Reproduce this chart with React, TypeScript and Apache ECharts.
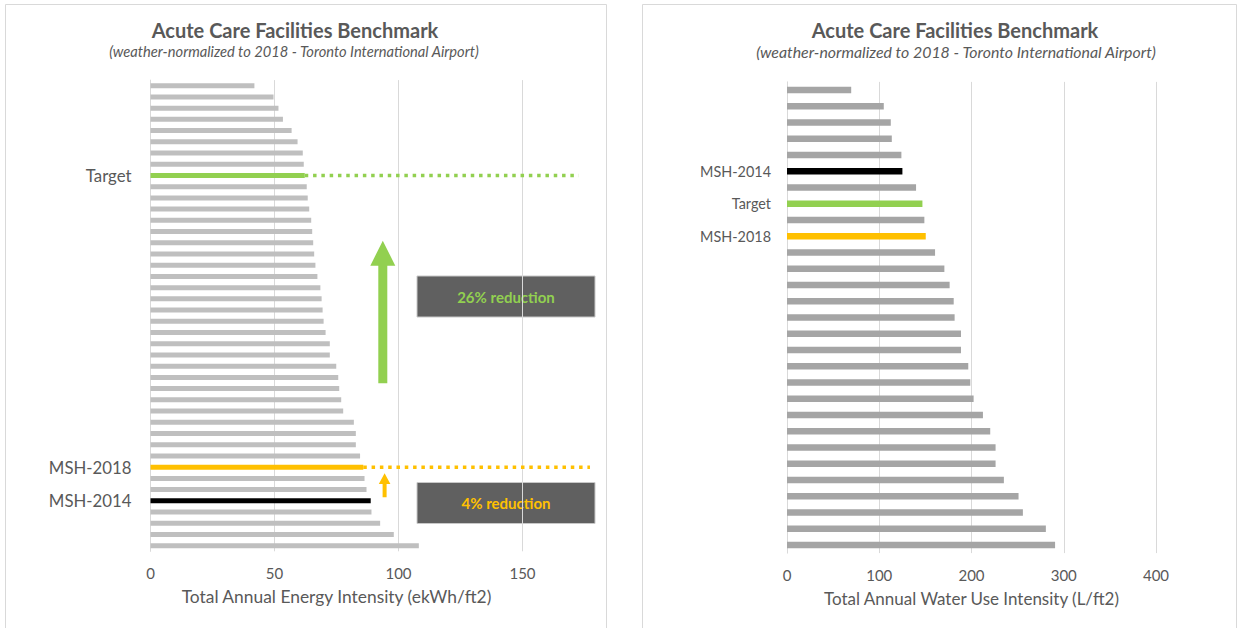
import React, { useEffect, useRef } from "react";
import * as echarts from "echarts";

// ---------- data ----------
const energyLabels = [
  "", "", "", "", "", "", "", "", "Target", "", "",
  "", "", "", "", "", "", "", "", "", "",
  "", "", "", "", "", "", "", "", "", "",
  "", "", "", "MSH-2018", "", "", "MSH-2014", "", "", "", "",
];
const energyValues = [
  41.9, 49.6, 51.6, 53.4, 56.9, 59.3, 61.4, 61.8, 62.2, 63.0, 63.4,
  64.0, 64.8, 65.2, 65.6, 66.0, 66.5, 67.3, 68.5, 69.0, 69.4,
  69.8, 70.6, 72.3, 72.3, 74.9, 75.7, 76.1, 76.9, 77.7, 82.0,
  82.8, 82.8, 84.5, 85.8, 86.3, 87.1, 88.8, 89.1, 92.6, 98.1, 108.2,
];
const energyTicks = [0, 50, 100, 150];

const waterLabels = [
  "", "", "", "", "", "MSH-2014", "", "Target", "", "MSH-2018",
  "", "", "", "", "", "", "", "", "", "",
  "", "", "", "", "", "", "", "", "",
];
const waterValues = [
  69.6, 104.9, 112.5, 113.6, 124.0, 125.1, 139.9, 146.8, 148.9, 150.4,
  160.5, 170.6, 176.3, 180.7, 181.7, 188.6, 188.6, 196.5, 198.7, 202.3,
  212.4, 220.3, 226.1, 226.1, 235.1, 251.0, 255.7, 280.6, 290.6,
];
const waterTicks = [0, 100, 200, 300, 400];

// dotted guide lines on the energy chart: [start, end] in ekWh/ft2
const targetGuide = [62.2, 172.7];
const msh2018Guide = [85.8, 177.2];

const reductionTexts = ["26% reduction", "4% reduction"];

const highlightColors: Record<string, string> = {
  Target: "#92d050",
  "MSH-2018": "#ffc000",
  "MSH-2014": "#000000",
};

const FONT = 'Lato, "Open Sans", sans-serif';
const TXT = "#595959";

function catNames(labels: string[]) {
  return labels.map((l, i) => (l ? l : `__${i}`));
}

function barData(labels: string[], values: number[], gray: string) {
  return values.map((v, i) => ({
    value: v,
    itemStyle: { color: highlightColors[labels[i]] || gray },
  }));
}

export default function App() {
  const ref = useRef<HTMLDivElement>(null);

  useEffect(() => {
    if (!ref.current) return;
    const chart = echarts.init(ref.current, undefined, { renderer: "svg" });

    const eNames = catNames(energyLabels);
    const wNames = catNames(waterLabels);
    const tIdx = energyLabels.indexOf("Target");
    const mIdx = energyLabels.indexOf("MSH-2018");

    const yAxisBase = (names: string[], margin: number, gridIndex: number, fontSize: number) => ({
      type: "category" as const,
      gridIndex,
      inverse: true,
      data: names,
      axisTick: { show: false },
      axisLine: { show: true, lineStyle: { color: "#d9d9d9", width: 1 } },
      axisLabel: {
        interval: 0,
        margin,
        color: TXT,
        fontFamily: FONT,
        fontSize,
        formatter: (v: string) => (v.startsWith("__") ? "" : v),
      },
    });

    const xAxisBase = (
      max: number,
      interval: number,
      name: string,
      gridIndex: number,
      ticks: number[],
      nameSize: number
    ) => ({
      type: "value" as const,
      gridIndex,
      min: ticks[0],
      max,
      interval,
      name,
      nameLocation: "middle" as const,
      nameGap: 37,
      nameTextStyle: { color: TXT, fontFamily: FONT, fontSize: nameSize },
      axisLine: { show: false },
      axisTick: { show: false },
      axisLabel: { color: TXT, fontFamily: FONT, fontSize: 15, margin: 14 },
      splitLine: { show: true, lineStyle: { color: "#d9d9d9", width: 1 } },
    });

    const titleText = (cx: number, title: string, sub: string, subCx: number, subSize: number) => [
      {
        type: "text",
        x: cx,
        y: 30,
        style: {
          text: title,
          fill: TXT,
          font: `bold 20px ${FONT}`,
          textAlign: "center",
          textVerticalAlign: "middle",
        },
      },
      {
        type: "text",
        x: subCx,
        y: 51,
        style: {
          text: sub,
          fill: TXT,
          font: `italic ${subSize}px ${FONT}`,
          textAlign: "center",
          textVerticalAlign: "middle",
        },
      },
    ];

    const arrow = (
      cx: number,
      tipY: number,
      baseY: number,
      bottomY: number,
      headHalf: number,
      shaftHalf: number,
      color: string
    ) => ({
      type: "polygon",
      z: 10,
      shape: {
        points: [
          [cx, tipY],
          [cx + headHalf, baseY],
          [cx + shaftHalf, baseY],
          [cx + shaftHalf, bottomY],
          [cx - shaftHalf, bottomY],
          [cx - shaftHalf, baseY],
          [cx - headHalf, baseY],
        ],
      },
      style: { fill: color },
    });

    const box = (y: number, text: string, color: string) => ({
      type: "group",
      z: 10,
      children: [
        {
          type: "rect",
          shape: { x: 417, y, width: 178, height: 41 },
          style: { fill: "#606060", stroke: "#c8c8c8", lineWidth: 1 },
        },
        {
          type: "text",
          x: 506,
          y: y + 20.5,
          style: {
            text,
            fill: color,
            font: `bold 15px ${FONT}`,
            textAlign: "center",
            textVerticalAlign: "middle",
          },
        },
      ],
    });

    chart.setOption({
      animation: false,
      backgroundColor: "#ffffff",
      grid: [
        { left: 150.5, top: 80.1, width: 372, height: 471.2, containLabel: false },
        { left: 787, top: 81.9, width: 369, height: 471.2, containLabel: false },
      ],
      xAxis: [
        xAxisBase(150, 50, "Total Annual Energy Intensity (ekWh/ft2)", 0, energyTicks, 17.4),
        xAxisBase(400, 100, "Total Annual Water Use Intensity (L/ft2)", 1, waterTicks, 17),
      ],
      yAxis: [yAxisBase(eNames, 19, 0, 16.8), yAxisBase(wNames, 16, 1, 14.4)],
      series: [
        {
          type: "bar",
          xAxisIndex: 0,
          yAxisIndex: 0,
          barWidth: 5,
          data: barData(energyLabels, energyValues, "#bfbfbf"),
          z: 3,
        },
        {
          type: "bar",
          xAxisIndex: 1,
          yAxisIndex: 1,
          barWidth: 6.5,
          data: barData(waterLabels, waterValues, "#a5a5a5"),
          z: 3,
        },
        {
          type: "line",
          xAxisIndex: 0,
          yAxisIndex: 0,
          clip: false,
          symbol: "none",
          silent: true,
          z: 4,
          lineStyle: { color: "#92d050", width: 3.5, type: [3.5, 4.8] },
          data: [
            [targetGuide[0], tIdx],
            [targetGuide[1], tIdx],
          ],
        },
        {
          type: "line",
          xAxisIndex: 0,
          yAxisIndex: 0,
          clip: false,
          symbol: "none",
          silent: true,
          z: 4,
          lineStyle: { color: "#ffc000", width: 3.5, type: [3.5, 4.8] },
          data: [
            [msh2018Guide[0], mIdx],
            [msh2018Guide[1], mIdx],
          ],
        },
      ],
      graphic: [
        {
          type: "rect",
          silent: true,
          shape: { x: 5.5, y: 4.5, width: 601, height: 630 },
          style: { fill: "rgba(0,0,0,0)", stroke: "#d9d9d9", lineWidth: 1 },
        },
        {
          type: "rect",
          silent: true,
          shape: { x: 642.5, y: 4.5, width: 594, height: 630 },
          style: { fill: "rgba(0,0,0,0)", stroke: "#d9d9d9", lineWidth: 1 },
        },
        ...titleText(295, "Acute Care Facilities Benchmark", "(weather-normalized to 2018 - Toronto International Airport)", 294, 14.7),
        ...titleText(955, "Acute Care Facilities Benchmark", "(weather-normalized to 2018 - Toronto International Airport)", 956, 15.9),
        arrow(382.8, 240.7, 265.7, 383.3, 12.5, 4.5, "#92d050"),
        arrow(384.6, 473.3, 484, 497.3, 5.8, 2, "#ffc000"),
        box(276, reductionTexts[0], "#92d050"),
        box(482.5, reductionTexts[1], "#ffc000"),
      ],
    });

    return () => chart.dispose();
  }, []);

  return (
    <div
      ref={ref}
      style={{ position: "fixed", left: 0, top: 0, width: 1239, height: 628 }}
    />
  );
}
